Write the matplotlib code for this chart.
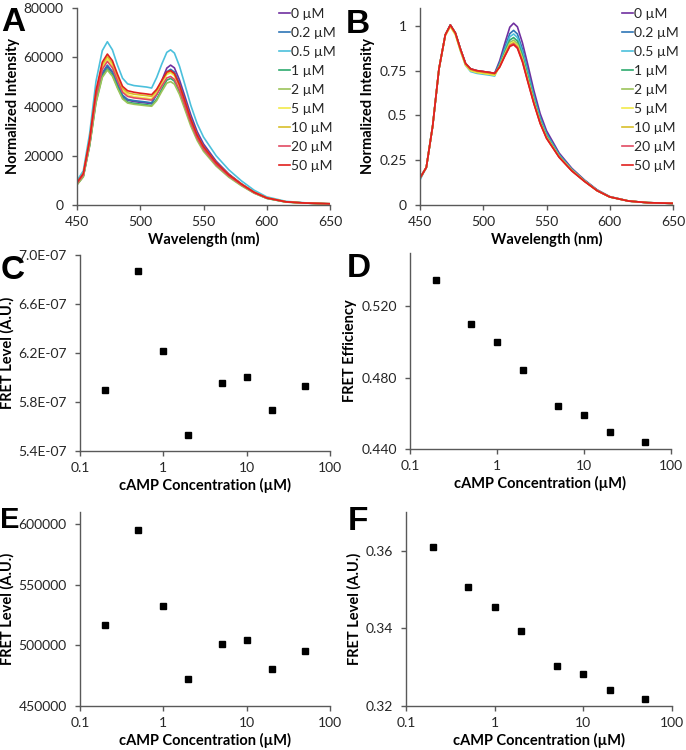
"""
cAMP titration: FRET spectra (A, B) and FRET readouts vs concentration (C-F)
"""
import matplotlib
matplotlib.use('Agg')
import matplotlib.pyplot as plt

plt.rcParams['font.family'] = ['Lato', 'DejaVu Sans']
plt.rcParams['font.size'] = 10

# ---------- data ----------
wavelength = [450, 455, 460, 465, 470, 474, 478, 482, 486, 490, 495, 500, 505,
              509, 513, 517, 521, 524, 527, 531, 535, 540, 545, 550,
              560, 570, 580, 590, 600, 615, 630, 650]

conc_labels = ['0 µM', '0.2 µM', '0.5 µM', '1 µM', '2 µM', '5 µM', '10 µM', '20 µM', '50 µM']
conc_colors = ['#7030a0', '#2e75b6', '#4bc0dc', '#2eaa6e', '#9cc45a',
               '#f2ea4a', '#d8bf2a', '#e24a62', '#e0201e']

# panel A: raw spectra
raw_0 = [8400, 11800, 24600, 42600, 53200, 56300, 53800, 48700, 44200, 42600, 42000, 41700, 41400,
         41200, 45100, 50500, 55600, 56800, 55700, 50800, 44600, 36600, 29800, 24800,
         17800, 12600, 8600, 5200, 2800, 1300, 800, 400]
raw_02 = [8500, 11900, 24900, 42900, 53700, 56800, 54200, 49200, 44600, 42900, 42400, 42100, 41800,
          41500, 44900, 49600, 54100, 55100, 54000, 49300, 43200, 35400, 28800, 24000,
          17300, 12300, 8400, 5100, 2800, 1300, 800, 500]
raw_05 = [9900, 13900, 29000, 50200, 62700, 66300, 63000, 56800, 51500, 49200, 48500, 48200, 47900,
          47500, 51800, 57200, 62000, 63000, 61700, 56400, 49400, 40400, 33000, 27600,
          20000, 14300, 9800, 6000, 3300, 1500, 900, 500]
raw_1 = [8300, 11600, 24200, 41800, 52300, 55300, 52800, 47900, 43500, 41800, 41300, 41000, 40700,
         40400, 43000, 47000, 50700, 51400, 50300, 46000, 40300, 32900, 26900, 22400,
         16200, 11600, 8000, 4900, 2700, 1200, 800, 400]
raw_2 = [8200, 11400, 24000, 41400, 51800, 54800, 52300, 47400, 43100, 41400, 40900, 40600, 40300,
         40100, 42400, 46100, 49500, 50100, 49100, 44900, 39200, 32000, 26200, 21800,
         15800, 11300, 7800, 4800, 2700, 1200, 800, 400]
raw_5 = [8900, 12400, 26000, 44800, 56100, 59300, 56600, 51300, 46600, 44800, 44000, 43700, 43400,
         43100, 45700, 49500, 53000, 53700, 52500, 48000, 42000, 34300, 28000, 23300,
         16900, 12100, 8400, 5100, 2900, 1300, 800, 500]
raw_10 = [9000, 12600, 26400, 45600, 57000, 60300, 57600, 52200, 47400, 45600, 45000, 44700, 44400,
          44100, 46400, 50200, 53600, 54300, 53100, 48500, 42500, 34600, 28300, 23600,
          17100, 12200, 8500, 5200, 2900, 1300, 800, 500]
raw_20 = [8700, 12200, 25500, 44100, 55100, 58300, 55700, 50500, 45800, 44100, 43500, 43200, 42900,
          42600, 44800, 48300, 51600, 52200, 51000, 46700, 40800, 33300, 27200, 22700,
          16400, 11800, 8200, 5000, 2800, 1300, 800, 500]
raw_50 = [9200, 12800, 26800, 46400, 58000, 61300, 58600, 53100, 48200, 46400, 45800, 45400, 45100,
          44800, 47000, 50600, 54000, 54600, 53400, 48800, 42700, 34800, 28400, 23700,
          17200, 12300, 8500, 5200, 2900, 1300, 800, 500]

# panel B: spectra normalised to the donor peak
norm_0 = [.15, .21, .44, .76, .95, 1.005, .96, .87, .79, .76, .75, .745, .74,
          .735, .806, .902, .993, 1.015, .995, .905, .79, .64, .51, .415,
          .29, .205, .14, .085, .047, .022, .013, .009]
norm_02 = [.15, .21, .44, .76, .95, 1.005, .96, .87, .79, .76, .75, .745, .74,
           .735, .794, .878, .957, .975, .955, .87, .757, .614, .49, .40,
           .282, .20, .137, .083, .046, .022, .013, .009]
norm_05 = [.14, .21, .44, .76, .95, 1.005, .955, .86, .78, .745, .735, .73, .725,
           .72, .785, .866, .939, .955, .935, .852, .741, .602, .481, .394,
           .278, .198, .136, .082, .046, .022, .013, .009]
norm_1 = [.15, .21, .44, .76, .95, 1.005, .96, .87, .79, .76, .745, .74, .735,
          .73, .782, .854, .921, .935, .915, .834, .725, .59, .472, .387,
          .274, .196, .135, .081, .045, .022, .013, .009]
norm_2 = [.15, .21, .44, .76, .95, 1.0, .955, .865, .785, .755, .74, .735, .73,
          .725, .778, .845, .908, .92, .90, .821, .713, .581, .465, .382,
          .271, .194, .134, .081, .045, .022, .013, .009]
norm_5 = [.15, .21, .44, .76, .945, .995, .95, .86, .78, .75, .74, .735, .73,
          .725, .775, .839, .899, .91, .89, .812, .705, .575, .461, .378,
          .269, .193, .133, .08, .045, .022, .013, .009]
norm_10 = [.15, .21, .44, .76, .95, 1.0, .955, .865, .785, .755, .745, .74, .735,
           .73, .773, .836, .894, .905, .885, .807, .701, .572, .459, .376,
           .268, .192, .133, .08, .045, .022, .013, .009]
norm_20 = [.15, .21, .44, .76, .95, 1.005, .96, .87, .79, .76, .75, .745, .74,
           .735, .772, .833, .89, .90, .88, .803, .697, .569, .457, .374,
           .267, .191, .132, .08, .045, .022, .013, .009]
norm_50 = [.15, .21, .44, .76, .95, 1.005, .96, .87, .79, .76, .75, .745, .74,
           .735, .77, .83, .885, .895, .875, .798, .693, .566, .455, .372,
           .266, .19, .132, .08, .045, .022, .013, .009]

raw_spectra = [raw_0, raw_02, raw_05, raw_1, raw_2, raw_5, raw_10, raw_20, raw_50]
norm_spectra = [norm_0, norm_02, norm_05, norm_1, norm_2, norm_5, norm_10, norm_20, norm_50]

# panels C-F
camp = [0.2, 0.5, 1, 2, 5, 10, 20, 50]
fret_level_c = [5.896e-7, 6.872e-7, 6.215e-7, 5.528e-7, 5.956e-7, 6.005e-7, 5.738e-7, 5.932e-7]
fret_eff_d = [0.5351, 0.5103, 0.4999, 0.4843, 0.4642, 0.4593, 0.4497, 0.4437]
fret_level_e = [516800, 595300, 532100, 472400, 501500, 504700, 480400, 495400]
fret_level_f = [0.3610, 0.3506, 0.3456, 0.3394, 0.3304, 0.3283, 0.3242, 0.3217]

AXIS_COLOR = '#595959'
W, H = 686, 750


def px_axes(fig, left, top, right, bottom):
    return fig.add_axes([left / W, 1 - bottom / H, (right - left) / W, (bottom - top) / H])


def style(ax):
    for s in ['top', 'right']:
        ax.spines[s].set_visible(False)
    for s in ['left', 'bottom']:
        ax.spines[s].set_color(AXIS_COLOR)
        ax.spines[s].set_linewidth(1.0)
    ax.tick_params(axis='both', colors=AXIS_COLOR, labelcolor='#262626',
                   direction='out', length=3.5, width=1.0, labelsize=10)
    ax.tick_params(axis='x', pad=4.5)
    ax.tick_params(axis='y', pad=6)


def panel_letter(fig, x, y, letter, size=24):
    fig.text(x / W, 1 - y / H, letter, fontsize=size, fontweight='bold',
             family=['Liberation Sans', 'DejaVu Sans'], ha='left', va='top')


def spectra_panel(ax, series, yticks, yticklabels, ylim):
    for ys, lab, col in zip(series, conc_labels, conc_colors):
        ax.plot(wavelength, ys, color=col, lw=1.2, label=lab)
    style(ax)
    ax.set_xlim(450, 650)
    ax.set_xticks([450, 500, 550, 600, 650])
    ax.set_ylim(*ylim)
    ax.set_yticks(yticks)
    ax.set_yticklabels(yticklabels)
    ax.set_xlabel('Wavelength (nm)', fontweight='bold', fontsize=10.5, labelpad=3)
    ax.set_ylabel('Normalized Intensity', fontweight='bold', fontsize=10.5, labelpad=3)
    leg = ax.legend(loc='upper left', bbox_to_anchor=(0.80, 1.0), frameon=False,
                    handlelength=0.75, handletextpad=0.1, labelspacing=0.5,
                    borderpad=0, borderaxespad=0, fontsize=10)
    for t in leg.get_texts():
        t.set_color('#262626')


def conc_panel(ax, y, yticks, yticklabels, ylim, ylabel):
    ax.plot(camp, y, 's', color='black', markersize=3.8, linestyle='none')
    ax.set_xscale('log')
    style(ax)
    ax.set_xlim(0.1, 100)
    ax.set_xticks([0.1, 1, 10, 100])
    ax.set_xticklabels(['0.1', '1', '10', '100'])
    ax.xaxis.set_minor_locator(matplotlib.ticker.NullLocator())
    ax.set_ylim(*ylim)
    ax.set_yticks(yticks)
    ax.set_yticklabels(yticklabels)
    ax.set_xlabel('cAMP Concentration (µM)', fontweight='bold', fontsize=10.5, labelpad=3)
    ax.set_ylabel(ylabel, fontweight='bold', fontsize=10.5, labelpad=3)


fig = plt.figure(figsize=(W / 100, H / 100), dpi=100)

# A
axA = px_axes(fig, 77, 8, 330, 205)
spectra_panel(axA, raw_spectra, [0, 20000, 40000, 60000, 80000],
              ['0', '20000', '40000', '60000', '80000'], (0, 80000))
panel_letter(fig, 1, 7, 'A')

# B
axB = px_axes(fig, 420, 8, 673, 205)
spectra_panel(axB, norm_spectra, [0, 0.25, 0.5, 0.75, 1],
              ['0', '0.25', '0.5', '0.75', '1'], (0, 1.1))
panel_letter(fig, 346, 9, 'B')

# C
axC = px_axes(fig, 80, 255, 330, 451)
c_ticks = [5.4e-7, 5.8e-7, 6.2e-7, 6.6e-7, 7.0e-7]
conc_panel(axC, fret_level_c, c_ticks, [f'{v:.1E}' for v in c_ticks],
           (5.4e-7, 7.0e-7), 'FRET Level (A.U.)')
panel_letter(fig, 1, 255, 'C')

# D
axD = px_axes(fig, 410, 253, 671, 449)
d_ticks = [0.44, 0.48, 0.52]
conc_panel(axD, fret_eff_d, d_ticks, [f'{v:.3f}' for v in d_ticks],
           (0.44, 0.55), 'FRET Efficiency')
panel_letter(fig, 347, 253, 'D')

# E
axE = px_axes(fig, 80, 512, 330, 706)
e_ticks = [450000, 500000, 550000, 600000]
conc_panel(axE, fret_level_e, e_ticks, [str(v) for v in e_ticks],
           (450000, 610000), 'FRET Level (A.U.)')
panel_letter(fig, 0, 506, 'E', size=21)

# F
axF = px_axes(fig, 406, 512, 672, 706)
f_ticks = [0.32, 0.34, 0.36]
conc_panel(axF, fret_level_f, f_ticks, [f'{v:.2f}' for v in f_ticks],
           (0.32, 0.37), 'FRET Level (A.U.)')
panel_letter(fig, 348, 506, 'F')

fig.savefig('out.png', dpi=100)
